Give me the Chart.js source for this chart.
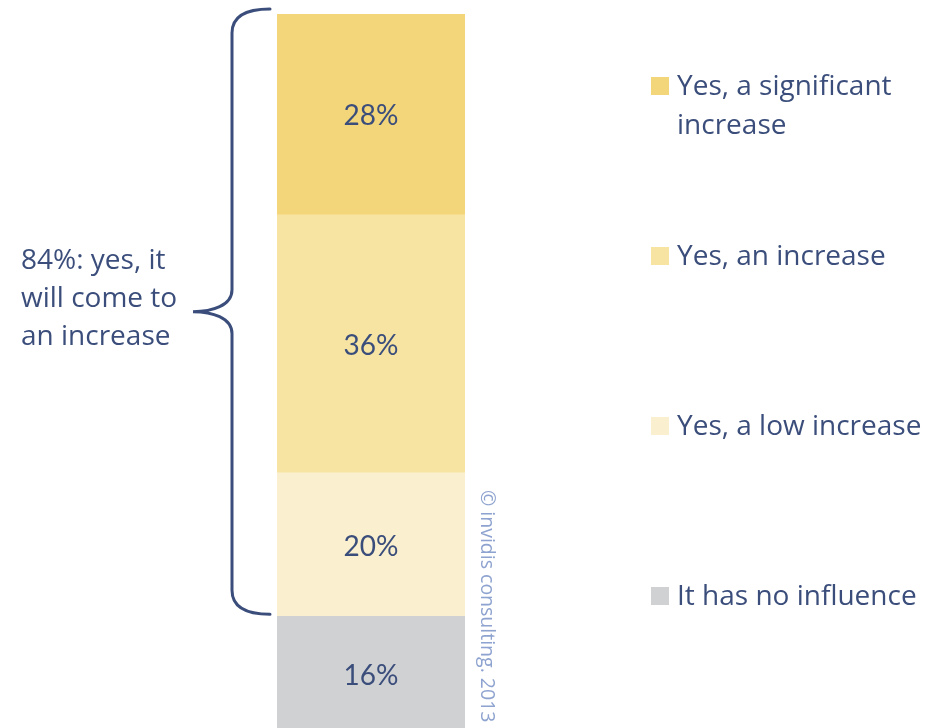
<!DOCTYPE html>
<html>
<head>
<meta charset="utf-8">
<script src="https://cdn.jsdelivr.net/npm/chart.js@4.4.1/dist/chart.umd.min.js"></script>
<style>
  html, body { margin: 0; padding: 0; background: #fff; overflow: hidden; }
  #wrap { position: relative; width: 934px; height: 731px; }
</style>
</head>
<body>
<div id="wrap"><canvas id="myChart"></canvas></div>
<script>
/* ============== Data ===========*/
const categories = ['Answer'];
const seriesNames = [
  'It has no influence',
  'Yes, a low increase',
  'Yes, an increase',
  'Yes, a significant increase'
];
const seriesValues = [16, 20, 36, 28];
const seriesColors = ['#D0D1D3', '#FAF0CF', '#F7E4A2', '#F3D57A'];
const legendLines = [
  ['Yes, a significant', 'increase'],
  ['Yes, an increase'],
  ['Yes, a low increase'],
  ['It has no influence']
];
const legendColors = ['#F3D57A', '#F7E4A2', '#FAF0CF', '#D0D1D3'];
const braceText = ['84%: yes, it', 'will come to', 'an increase'];
const watermark = '\u00A9 invidis consulting. 2013';

const textColor = '#3B4E7B';
const fontFam = 'Lato, "Open Sans", sans-serif';
const textFam = '"Open Sans", Lato, sans-serif';

/* ============== Plugins ===========*/
const valueLabels = {
  id: 'valueLabels',
  afterDatasetsDraw(chart) {
    const ctx = chart.ctx;
    ctx.save();
    ctx.fillStyle = textColor;
    ctx.font = '28px ' + fontFam;
    ctx.textAlign = 'center';
    ctx.textBaseline = 'middle';
    chart.data.datasets.forEach((ds, i) => {
      const bar = chart.getDatasetMeta(i).data[0];
      const c = bar.getCenterPoint();
      ctx.fillText(ds.data[0] + '%', c.x, c.y + 2);
    });
    ctx.restore();
  }
};

const extras = {
  id: 'extras',
  afterDraw(chart) {
    const ctx = chart.ctx;
    const y = chart.scales.y;
    ctx.save();

    // legend
    ctx.font = '28px ' + textFam;
    ctx.textBaseline = 'middle';
    ctx.textAlign = 'left';
    legendLines.forEach((lines, i) => {
      const cy = 86 + i * 170;
      ctx.fillStyle = legendColors[i];
      ctx.fillRect(651, cy - 9, 18, 18);
      ctx.fillStyle = textColor;
      lines.forEach((t, j) => ctx.fillText(t, 677, cy + 1 + j * 39));
    });

    // brace over the "increase" segments
    const top = y.getPixelForValue(100) - 5;
    const bot = y.getPixelForValue(seriesValues[0]) - 2;
    const mid = (top + bot) / 2;
    const xe = 270, xv = 232, xt = 193;
    ctx.strokeStyle = '#3B4E7B';
    ctx.lineWidth = 3;
    ctx.lineCap = 'round';
    ctx.beginPath();
    ctx.moveTo(xe, top);
    ctx.bezierCurveTo(245, top, xv, top + 8, xv, top + 24);
    ctx.lineTo(xv, mid - 22);
    ctx.bezierCurveTo(xv, mid - 6, 212, mid, xt, mid);
    ctx.bezierCurveTo(212, mid, xv, mid + 6, xv, mid + 22);
    ctx.lineTo(xv, bot - 24);
    ctx.bezierCurveTo(xv, bot - 8, 245, bot, xe, bot);
    ctx.stroke();

    // brace text
    ctx.fillStyle = textColor;
    ctx.font = '28px ' + textFam;
    braceText.forEach((t, i) => ctx.fillText(t, 21, 261 + i * 38));

    // watermark
    ctx.translate(487, 490);
    ctx.rotate(Math.PI / 2);
    ctx.font = '19.5px ' + textFam;
    ctx.fillStyle = '#8EA3CF';
    ctx.textBaseline = 'middle';
    ctx.fillText(watermark, 0, 0);
    ctx.restore();
  }
};

/* ============== Chart ===========*/
const graf = document.getElementById('myChart');

const data = {
  labels: categories,
  datasets: seriesNames.map((name, i) => ({
    label: name,
    data: [seriesValues[i]],
    backgroundColor: seriesColors[i],
    borderWidth: 0,
    barPercentage: 1,
    categoryPercentage: 1
  }))
};

const config = {
  type: 'bar',
  data,
  options: {
    responsive: true,
    maintainAspectRatio: false,
    animation: false,
    layout: { padding: { left: 277, right: 469, top: 14, bottom: 0 } },
    plugins: {
      legend: { display: false },
      tooltip: { enabled: false }
    },
    scales: {
      x: { stacked: true, display: false },
      y: { stacked: true, display: false, min: 0, max: 100 }
    }
  },
  plugins: [valueLabels, extras]
};

const myChart = new Chart(graf, config);
</script>
</body>
</html>
